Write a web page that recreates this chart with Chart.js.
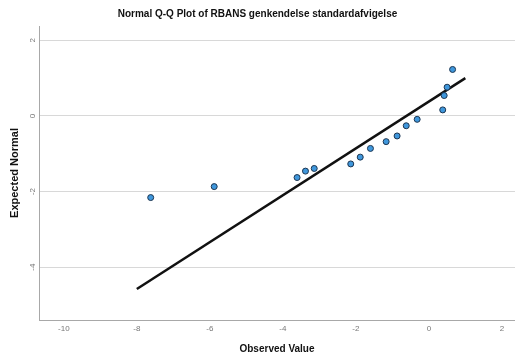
<!DOCTYPE html>
<html>
<head>
<meta charset="utf-8">
<script src="https://cdn.jsdelivr.net/npm/chart.js@4/dist/chart.umd.min.js"></script>
<style>
  html, body { margin: 0; padding: 0; background: #fff; overflow: hidden; }
  #wrap { width: 515px; height: 358px; }
  canvas { display: block; }
</style>
</head>
<body>
<div id="wrap"><canvas id="myChart" width="515" height="358"></canvas></div>
<script>
const observed = [-7.62, -5.88, -3.61, -3.38, -3.14, -2.14, -1.88, -1.60, -1.17, -0.87, -0.62, -0.32, 0.38, 0.42, 0.50, 0.65];
const expected = [-2.16, -1.87, -1.63, -1.46, -1.39, -1.27, -1.09, -0.86, -0.68, -0.53, -0.26, -0.09, 0.16, 0.54, 0.76, 1.23];
const lineX = [-8, 1];
const lineY = [-4.58, 1.0];
const xTicks = [-10, -8, -6, -4, -2, 0, 2];
const yTicks = [-4, -2, 0, 2];

const FONT = "'Liberation Sans', Arial, sans-serif";

let ctx = document.querySelector('#myChart').getContext('2d');
let myChart = new Chart(ctx, {
  type: 'scatter',
  data: {
    datasets: [{
      label: 'Observed',
      data: observed.map((x, i) => ({x: x, y: expected[i]})),
      backgroundColor: '#3f97dc',
      borderColor: '#1c3550',
      borderWidth: 1,
      pointRadius: 3,
    }, {
      type: 'line',
      label: 'Reference',
      data: lineX.map((x, i) => ({x: x, y: lineY[i]})),
      borderColor: '#111',
      borderWidth: 2.5,
      pointRadius: 0,
      fill: false,
    }]
  },
  options: {
    responsive: false,
    animation: false,
    layout: { padding: 0, autoPadding: false },
    plugins: {
      legend: { display: false },
      tooltip: { enabled: false },
      title: {
        display: true,
        text: 'Normal Q-Q Plot of RBANS genkendelse standardafvigelse',
        color: '#111',
        font: { family: FONT, size: 10, weight: 'bold' },
        padding: { top: 8, bottom: 6 },
      },
    },
    scales: {
      x: {
        type: 'linear',
        min: -10.68,
        max: 2.36,
        afterBuildTicks: s => { s.ticks = xTicks.map(v => ({value: v})); },
        afterFit: s => { s.height = 38; s.paddingLeft = 0; s.paddingRight = 0; },
        grid: { display: false, drawTicks: false },
        border: { display: true, color: '#a8a8a8', width: 1 },
        ticks: { color: '#777', font: { family: FONT, size: 8 }, padding: 4, maxRotation: 0 },
        title: {
          display: true,
          text: 'Observed Value',
          color: '#111',
          font: { family: FONT, size: 10, weight: 'bold' },
          padding: { top: 0, bottom: 3 },
        },
      },
      y: {
        type: 'linear',
        min: -5.4,
        max: 2.38,
        afterBuildTicks: s => { s.ticks = yTicks.map(v => ({value: v})); },
        afterFit: s => { s.width = 39; s.paddingTop = 0; s.paddingBottom = 0; },
        grid: { color: '#d8d8d8', lineWidth: 1, drawTicks: false },
        border: { display: true, color: '#a8a8a8', width: 1 },
        ticks: { color: '#777', font: { family: FONT, size: 8 }, padding: 3, minRotation: 90, maxRotation: 90, crossAlign: 'center' },
        title: {
          display: true,
          text: 'Expected Normal',
          color: '#111',
          font: { family: FONT, size: 11, weight: 'bold' },
          padding: { top: 8, bottom: 0 },
        },
      },
    },
  },
});
</script>
</body>
</html>
